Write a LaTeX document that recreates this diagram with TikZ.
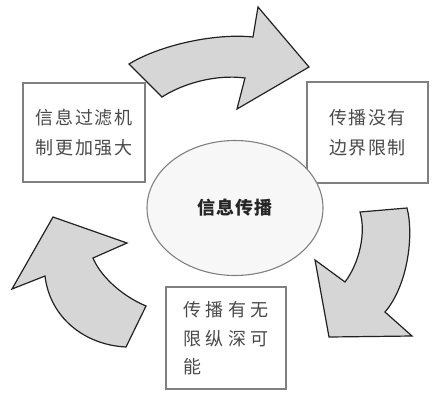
\documentclass[tikz,border=0pt]{standalone}
\usepackage{fontspec}
\usetikzlibrary{shapes.geometric}
\newfontfamily\cjk{Noto Sans CJK SC}
\definecolor{boxedge}{HTML}{808080}
\definecolor{txtgray}{HTML}{4A4A4A}
\definecolor{arrowfill}{HTML}{D6D6D6}
\definecolor{arrowedge}{HTML}{222222}
\definecolor{ellfill}{HTML}{F7F7F7}
\begin{document}
\begin{tikzpicture}[x=1pt,y=-1pt,
  box/.style={draw=boxedge, line width=1.1pt, fill=white, inner sep=0pt,
    text=txtgray, align=center},
  boxfont/.style={font=\cjk\addfontfeature{LetterSpace=#1}\fontsize{18}{30}\selectfont},
  bigarrow/.style={draw=arrowedge, fill=arrowfill, line width=1.2pt, line join=miter},
  hub/.style={ellipse, draw=boxedge, fill=ellfill, line width=1.1pt,
    minimum width=176pt, minimum height=135pt, inner sep=0pt,
    text=black!85, font=\cjk\bfseries\addfontfeature{LetterSpace=6}\fontsize{18}{20}\selectfont}
]
\useasboundingbox (0,0) rectangle (441,400);
\fill[white] (0,0) rectangle (441,400);

% boxes
\node[box, boxfont=11, minimum width=122pt, minimum height=99pt] (filter) at (84,132.5)
  {信息过滤机\\制更加强大};
\node[box, boxfont=7, minimum width=121pt, minimum height=101pt] (border) at (367.5,132.5)
  {传播没有\\边界限制};
\node[box, boxfont=25, minimum width=120pt, minimum height=102pt, align=left] (depth) at (226,338)
  {传播有无\\[-1pt]限纵深可\\[-2pt]能};

% hub
\node[hub] (hub) at (235,208) {信息传播};

% top arrow
\draw[bigarrow] (129,64) -- (162,97) .. controls (182,84) and (215,74) .. (245,78)
  -- (237,109) -- (309,67) -- (258,7) -- (253,37)
  .. controls (215,33) and (160,45) .. (129,64) -- cycle;

% right arrow
\draw[bigarrow] (360,212) -- (407,208) .. controls (414,235) and (408,285) .. (385,312)
  -- (412,336) -- (329,337) -- (315,260) -- (345,282)
  .. controls (360,262) and (366,232) .. (360,212) -- cycle;

% left arrow
\draw[bigarrow] (53,217) -- (127,243) -- (93,258)
  .. controls (100,275) and (120,295) .. (146,306)
  -- (126,347) .. controls (85,345) and (50,318) .. (45,276)
  -- (12,289) -- cycle;
\end{tikzpicture}
\end{document}
